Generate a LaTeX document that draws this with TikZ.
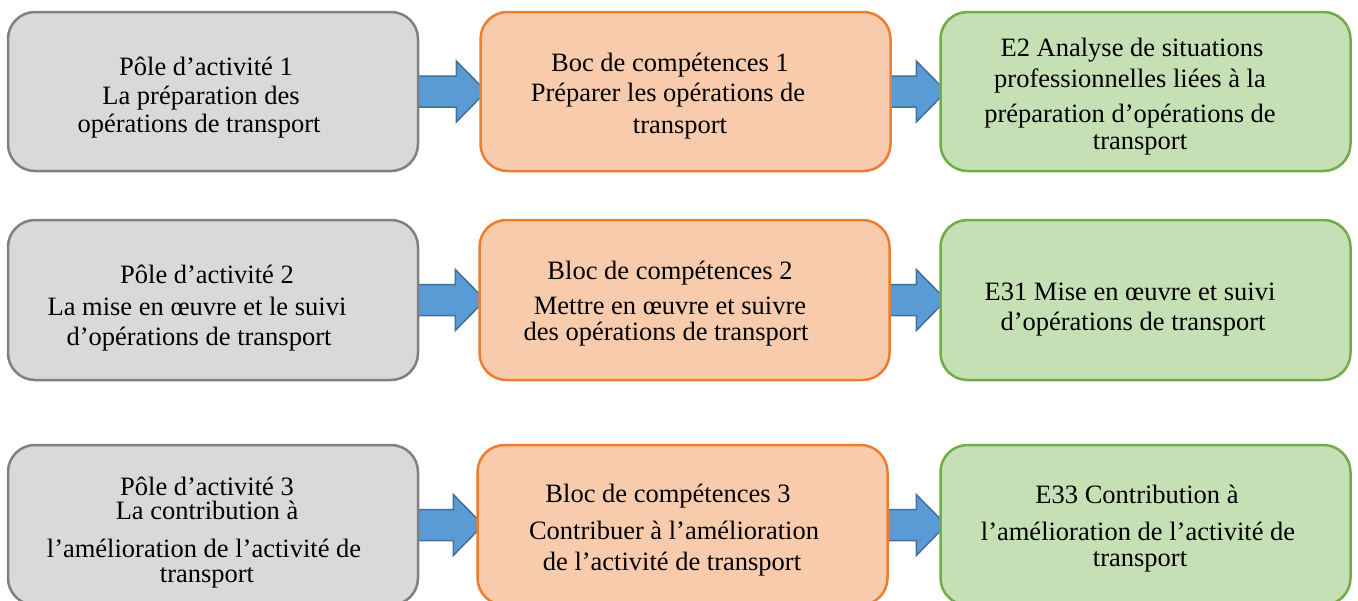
\documentclass[tikz,border=0pt]{standalone}
\usepackage{fontspec}
\setmainfont{Liberation Serif}
\usetikzlibrary{calc}
\definecolor{greyfill}{HTML}{D9D9D9}
\definecolor{greyline}{HTML}{808080}
\definecolor{orfill}{HTML}{F8CBAD}
\definecolor{orline}{HTML}{ED7D31}
\definecolor{grfill}{HTML}{C5E0B4}
\definecolor{grline}{HTML}{70AD47}
\definecolor{arfill}{HTML}{5B9BD5}
\definecolor{arline}{HTML}{41719C}
\pgfdeclarelayer{bg}
\pgfsetlayers{bg,main}
\newcommand\blockarr[2]{%
  \draw[barrow] let \p1=(#1.east), \p2=(#2.west) in
    (\x1-5pt,\y1+15.5pt) -- (\x2-23pt,\y1+15.5pt) -- (\x2-23pt,\y1+30.5pt) --
    (\x2+7pt,\y1) -- (\x2-23pt,\y1-30.5pt) -- (\x2-23pt,\y1-15.5pt) --
    (\x1-5pt,\y1-15.5pt) -- cycle;}
\begin{document}
\begin{tikzpicture}[x=1pt,y=-1pt,
  box/.style={rectangle, rounded corners=27pt, line width=2.5pt,
    minimum width=410pt, minimum height=159pt, inner sep=0pt},
  gbox/.style={box, fill=greyfill, draw=greyline},
  obox/.style={box, fill=orfill, draw=orline},
  ebox/.style={box, fill=grfill, draw=grline},
  barrow/.style={fill=arfill, draw=arline, line width=1.5pt, line join=miter},
  txt/.style={anchor=base, inner sep=0pt, font=\fontsize{26.5}{30}\selectfont}]
\useasboundingbox (0,0) rectangle (1358,600);
% row 1
\node[gbox] (g1) at (213,91.5) {};
\node[obox] (o1) at (685.5,91.5) {};
\node[ebox] (e1) at (1145.5,91.5) {};
% row 2
\node[gbox, minimum height=160pt] (g2) at (213,300) {};
\node[obox, minimum height=160pt] (o2) at (684.5,300) {};
\node[ebox, minimum height=160pt] (e2) at (1145.5,300) {};
% row 3
\node[gbox, minimum height=160pt] (g3) at (213,525) {};
\node[obox, minimum height=160pt] (o3) at (682.5,525) {};
\node[ebox, minimum height=160pt] (e3) at (1145.5,525) {};
\begin{pgfonlayer}{bg}
\blockarr{g1}{o1}
\blockarr{o1}{e1}
\blockarr{g2}{o2}
\blockarr{o2}{e2}
\blockarr{g3}{o3}
\blockarr{o3}{e3}
\end{pgfonlayer}
% texts row 1
\node[txt] (g1a) at (206,75) {Pôle d’activité 1};
\node[txt] (g1b) at (201,104) {La préparation des};
\node[txt] (g1c) at (199,132) {opérations de transport};
\node[txt] (o1a) at (670,71) {Boc de compétences 1};
\node[txt] (o1b) at (668,101) {Préparer les opérations de};
\node[txt] (o1c) at (680,133) {transport};
\node[txt] (e1a) at (1132,56) {E2 Analyse de situations};
\node[txt] (e1b) at (1130,87) {professionnelles liées à la};
\node[txt] (e1c) at (1130,122) {préparation d’opérations de};
\node[txt] (e1d) at (1140,149) {transport};
% texts row 2
\node[txt] (g2a) at (207,283) {Pôle d’activité 2};
\node[txt] (g2b) at (197,315) {La mise en œuvre et le suivi};
\node[txt] (g2c) at (199,345) {d’opérations de transport};
\node[txt] (o2a) at (670,279) {Bloc de compétences 2};
\node[txt] (o2b) at (670,314) {Mettre en œuvre et suivre};
\node[txt] (o2c) at (666,340) {des opérations de transport};
\node[txt] (e2a) at (1130,300) {E31 Mise en œuvre et suivi};
\node[txt] (e2b) at (1133,330) {d’opérations de transport};
% texts row 3
\node[txt] (g3a) at (207,495) {Pôle d’activité 3};
\node[txt] (g3b) at (207,519) {La contribution à};
\node[txt] (g3c) at (204,557) {l’amélioration de l’activité de};
\node[txt] (g3d) at (207,582) {transport};
\node[txt] (o3a) at (668,502) {Bloc de compétences 3};
\node[txt] (o3b) at (674,539) {Contribuer à l’amélioration};
\node[txt] (o3c) at (672,570) {de l’activité de transport};
\node[txt] (e3a) at (1137,503) {E33 Contribution à};
\node[txt] (e3b) at (1138,540) {l’amélioration de l’activité de};
\node[txt] (e3c) at (1140,566) {transport};
\end{tikzpicture}
\end{document}
